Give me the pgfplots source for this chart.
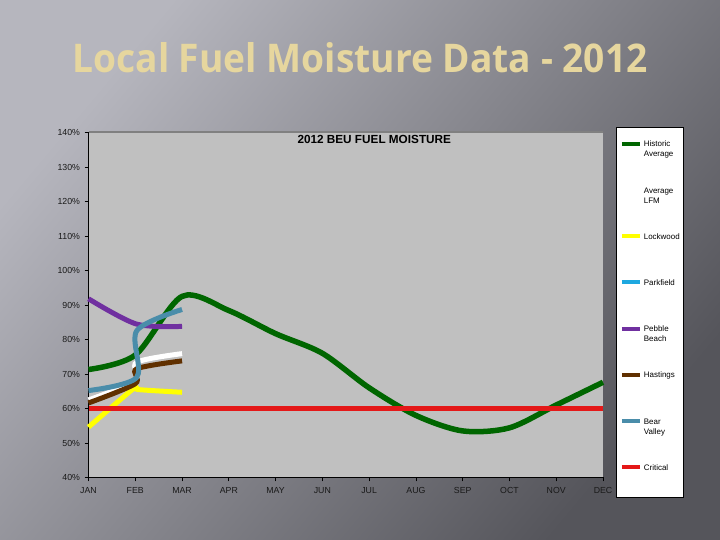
\documentclass[border=0pt]{standalone}
\usepackage{pgfplots}
\pgfplotsset{compat=1.18}
\usepackage{fontspec}
\setmainfont{Liberation Sans}
\newfontfamily\titlefont{Open Sans}
\definecolor{bgL}{HTML}{B6B6BE}
\definecolor{bgM}{HTML}{7F7F86}
\definecolor{bgR}{HTML}{55555B}
\definecolor{plotgray}{HTML}{C0C0C0}
\definecolor{titlec}{HTML}{E6D69E}
\definecolor{histc}{HTML}{006600}
\definecolor{lockc}{HTML}{FFFF00}
\definecolor{parkc}{HTML}{1EA8E0}
\definecolor{pebc}{HTML}{7030A0}
\definecolor{hastc}{HTML}{603000}
\definecolor{bearc}{HTML}{4A8DAA}
\definecolor{critc}{HTML}{E41818}
\begin{document}
\begin{tikzpicture}
\shade[left color=bgL, middle color=bgM, right color=bgR, shading angle=50] (0bp,0bp) rectangle (720bp,540bp);
\node[anchor=base, text=titlec] at (360bp,467.3bp) {\resizebox{575bp}{30bp}{\titlefont\bfseries Local Fuel Moisture Data - 2012}};
\begin{axis}[
  at={(88.5bp,62.5bp)}, anchor=south west,
  scale only axis, width=514.5bp, height=345bp,
  xmin=0, xmax=11, ymin=40, ymax=140,
  axis background/.style={fill=plotgray},
  axis x line*=bottom, axis y line*=left,
  axis line style={black, line width=1.2bp, -},
  xtick={0,...,11},
  xticklabels={JAN,FEB,MAR,APR,MAY,JUN,JUL,AUG,SEP,OCT,NOV,DEC},
  ytick={40,50,...,140},
  yticklabels={40\%,50\%,60\%,70\%,80\%,90\%,100\%,110\%,120\%,130\%,140\%},
  tick align=outside, major tick length=4bp,
  tick style={black, line width=0.8bp},
  ticklabel style={font=\fontsize{8.8}{10}\selectfont, text=black!90},
  xticklabel style={yshift=-2bp},
  yticklabel style={xshift=-1bp},
  /pgf/number format/assume math mode=true,
  title={\textbf{2012 BEU FUEL MOISTURE}},
  every axis title shift=0pt,
  title style={at={(0.5554,0.967)}, anchor=base, font=\fontsize{11.8}{13}\selectfont},
  clip=false,
  legend style={at={(1.0262,1.0145)}, anchor=north west, draw=black, line width=0.8bp,
    fill=white, inner xsep=3bp, inner ysep=0bp, row sep=0bp,
    cells={anchor=base west},
    nodes={font=\fontsize{8}{10}\selectfont, text width=35bp, align=left,
      text height=19bp, text depth=27.2bp, inner xsep=2bp, inner ysep=0bp}},
  legend image code/.code={\draw[#1, line width=4bp] (0bp,3bp) -- (18bp,3bp);},
]
\draw[black!50, line width=2bp] (rel axis cs:0,1) -- (rel axis cs:1,1);
% Historic Average
\addplot[histc, line width=5.5bp, smooth] coordinates {
  (0,71.3) (1,75.5) (2,92.5) (3,88.4) (4,81.7) (5,76.0) (6,66.0)
  (7,58.0) (8,53.5) (9,54.4) (10,61.0) (11,67.6)};
\addlegendentry{Historic\\Average}
% Average LFM
\addplot[white, line width=5bp, smooth] coordinates {
  (0,62.5) (1,68.0) (1.03,73.4) (2,75.9)};
\addlegendentry{Average\\LFM}
% Lockwood
\addplot[lockc, line width=5bp, smooth] coordinates {
  (0,54.6) (1.0,66.2) (1.05,65.5) (2,64.7)};
\addlegendentry{Lockwood}
% Parkfield (no data shown)
\addlegendimage{parkc, line width=5bp}
\addlegendentry{Parkfield}
% Pebble Beach
\addplot[pebc, line width=5bp, smooth] coordinates {
  (0,91.8) (1.02,84.5) (2,83.8)};
\addlegendentry{Pebble\\Beach}
% Hastings
\addplot[hastc, line width=5bp, smooth] coordinates {
  (0,61.6) (1,67.2) (1.03,71.5) (2,73.8)};
\addlegendentry{Hastings}
% Bear Valley
\addplot[bearc, line width=5bp, smooth] coordinates {
  (0,65.2) (1.03,69.0) (1.03,82.5) (2,88.7)};
\addlegendentry{Bear\\Valley}
% Critical
\addplot[critc, line width=4.5bp] coordinates {(0,60) (11,60)};
\addlegendentry{Critical}
\end{axis}
\end{tikzpicture}
\end{document}
